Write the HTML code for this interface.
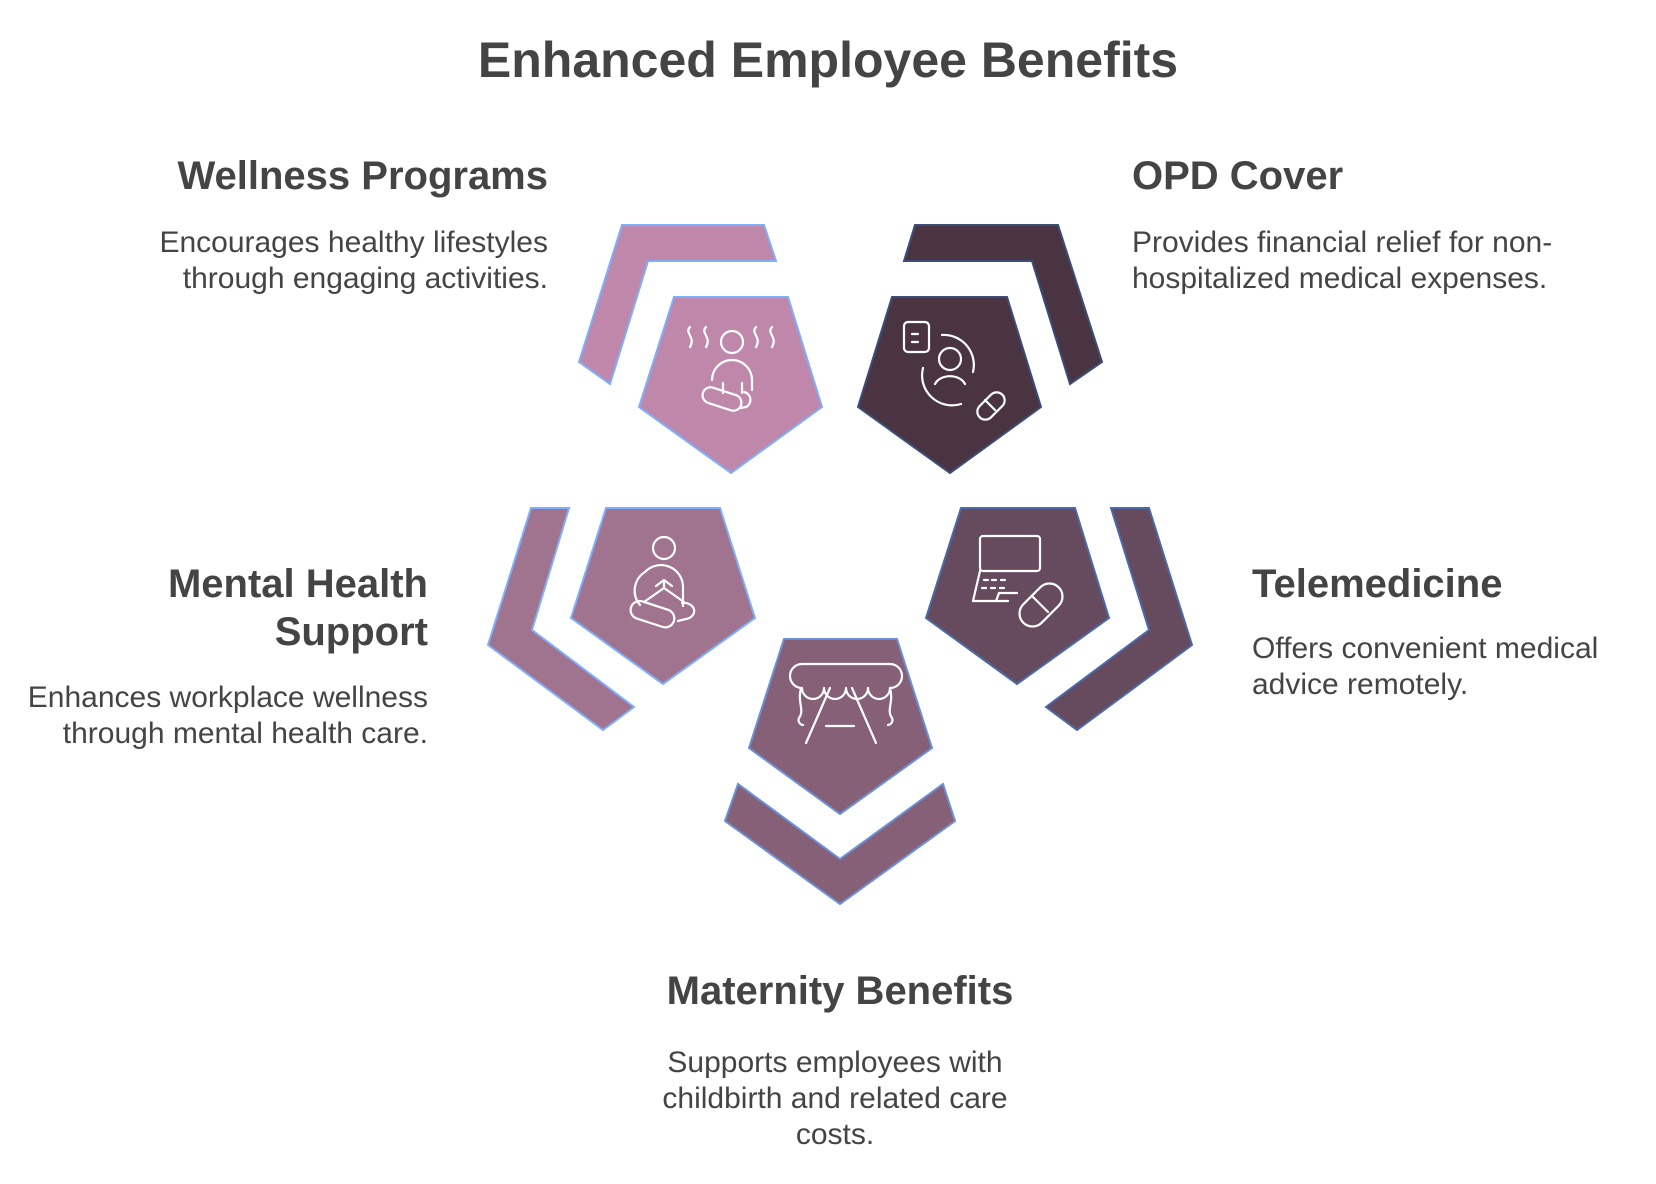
<!DOCTYPE html>
<html><head><meta charset="utf-8"><style>
html,body{margin:0;padding:0;background:#fff;}
svg{display:block;}
text{font-family:"Liberation Sans",Arial,sans-serif;fill:#444;}
.h{font-weight:bold;font-size:40px;}
.d{font-size:30px;}
.ic{fill:none;stroke:#fff;stroke-width:2.2;stroke-linecap:round;stroke-linejoin:round;}
</style></head><body>
<svg width="1656" height="1184" viewBox="0 0 1656 1184" xmlns="http://www.w3.org/2000/svg">
<text x="828" y="77" text-anchor="middle" font-weight="bold" font-size="50">Enhanced Employee Benefits</text>

<polygon points="622,225 764,225 776,261 648,261 610,384 579,362" fill="#bf87aa" stroke="#7eaefc" stroke-width="2"/>
<polygon points="674,297 788,297 822,407 731,473 639,407" fill="#bf87aa" stroke="#7eaefc" stroke-width="2"/>
<polygon points="915,225 1058,225 1102,362 1070,384 1032,261 904,261" fill="#4a3441" stroke="#3a4e7a" stroke-width="2"/>
<polygon points="892,297 1007,297 1041,407 950,473 858,407" fill="#4a3441" stroke="#3a4e7a" stroke-width="2"/>
<polygon points="531,508 569,508 532,630 634,707 603,730 488,645" fill="#a0738f" stroke="#7eaefc" stroke-width="2"/>
<polygon points="606,508 720,508 755,618 663,684 571,618" fill="#a0738f" stroke="#7eaefc" stroke-width="2"/>
<polygon points="1111,508 1149,508 1192,645 1077,730 1046,707 1149,630" fill="#664a5e" stroke="#4a6aa8" stroke-width="2"/>
<polygon points="961,508 1075,508 1109,618 1017,684 926,618" fill="#664a5e" stroke="#4a6aa8" stroke-width="2"/>
<polygon points="784,639 897,639 932,748 840,814 749,748" fill="#856077" stroke="#6a90d8" stroke-width="2"/>
<polygon points="738,784 725,821 840,904 955,821 943,784 840,859" fill="#856077" stroke="#6a90d8" stroke-width="2"/>

<g class="ic">
 <circle cx="732" cy="342" r="11"/>
 <path d="M712,380 a20,20 0 0 1 40,0 v10"/>
 <path d="M723,383 v10 M742,383 v10"/>
 <rect x="702" y="391" width="40" height="16" rx="8" transform="rotate(18 722 399)"/>
 <path d="M744,392 a8,8 0 0 1 2,15 l-6,1"/>
 <path d="M690,327 c-6,6 6,10 0,20 M706,327 c-6,6 6,10 0,20 M756,327 c-6,6 6,10 0,20 M772,327 c-6,6 6,10 0,20"/>
 <rect x="904" y="322" width="25" height="30" rx="4"/>
 <path d="M912,334 h6 M912,342 h6"/>
 <circle cx="950" cy="359" r="11"/>
 <path d="M935,384 a16,12 0 0 1 30,0"/>
 <path d="M942,335 a30,30 0 0 1 31,37 M961,404 a30,30 0 0 1 -38,-36"/>
 <rect x="975" y="398" width="32" height="16" rx="8" transform="rotate(-45 991 406)"/>
 <path d="M985,400 l10,10"/>
 <circle cx="664" cy="548" r="11"/>
 <path d="M640,605 a22,22 0 0 1 5,-33 a22,22 0 0 1 38,16 v18"/>
 <path d="M664,588 v-8 l-8,6 M664,580 l8,6 M664,588 l-20,14 M664,588 l20,14"/>
 <rect x="630" y="605" width="45" height="18" rx="9" transform="rotate(18 652 614)"/>
 <path d="M682,603 a10,8 0 0 1 4,16 l-8,2"/>
 <rect x="980" y="536" width="60" height="35" rx="3"/>
 <path d="M980,571 l-7,30 h35 M984,580 h4 M992,580 h4 M1001,580 h4 M982,588 h4 M991,588 h4 M1000,588 h4 M996,601 l3,-8 h18"/>
 <rect x="1016" y="592" width="50" height="26" rx="13" transform="rotate(-45 1041 605)"/>
 <path d="M1032,596 l16,16"/>
 <path d="M802,664 h88 a8,8 0 0 1 0,24 M802,664 a8,8 0 0 0 0,24"/>
 <path d="M802,688 a11,11 0 0 0 22,0 a11,11 0 0 0 22,0 a11,11 0 0 0 22,0 a11,11 0 0 0 22,0"/>
 <path d="M801,688 c-4,15 4,22 -2,30 a5,5 0 0 0 4,7 M890,688 c4,15 -4,22 2,30 a5,5 0 0 1 -4,7"/>
 <path d="M830,688 l-24,55 M852,688 l24,55 M826,726 h28"/>
</g>

<text class="h" x="548" y="189" text-anchor="end">Wellness Programs</text>
<text class="d" x="548" y="252" text-anchor="end">Encourages healthy lifestyles</text>
<text class="d" x="548" y="288" text-anchor="end">through engaging activities.</text>

<text class="h" x="1132" y="189">OPD Cover</text>
<text class="d" x="1132" y="252">Provides financial relief for non-</text>
<text class="d" x="1132" y="288">hospitalized medical expenses.</text>

<text class="h" x="428" y="597" text-anchor="end">Mental Health</text>
<text class="h" x="428" y="645" text-anchor="end">Support</text>
<text class="d" x="428" y="707" text-anchor="end">Enhances workplace wellness</text>
<text class="d" x="428" y="743" text-anchor="end">through mental health care.</text>

<text class="h" x="1252" y="597">Telemedicine</text>
<text class="d" x="1252" y="658">Offers convenient medical</text>
<text class="d" x="1252" y="694">advice remotely.</text>

<text class="h" x="840" y="1004" text-anchor="middle">Maternity Benefits</text>
<text class="d" x="835" y="1072" text-anchor="middle">Supports employees with</text>
<text class="d" x="835" y="1108" text-anchor="middle">childbirth and related care</text>
<text class="d" x="835" y="1144" text-anchor="middle">costs.</text>
</svg>
</body></html>
